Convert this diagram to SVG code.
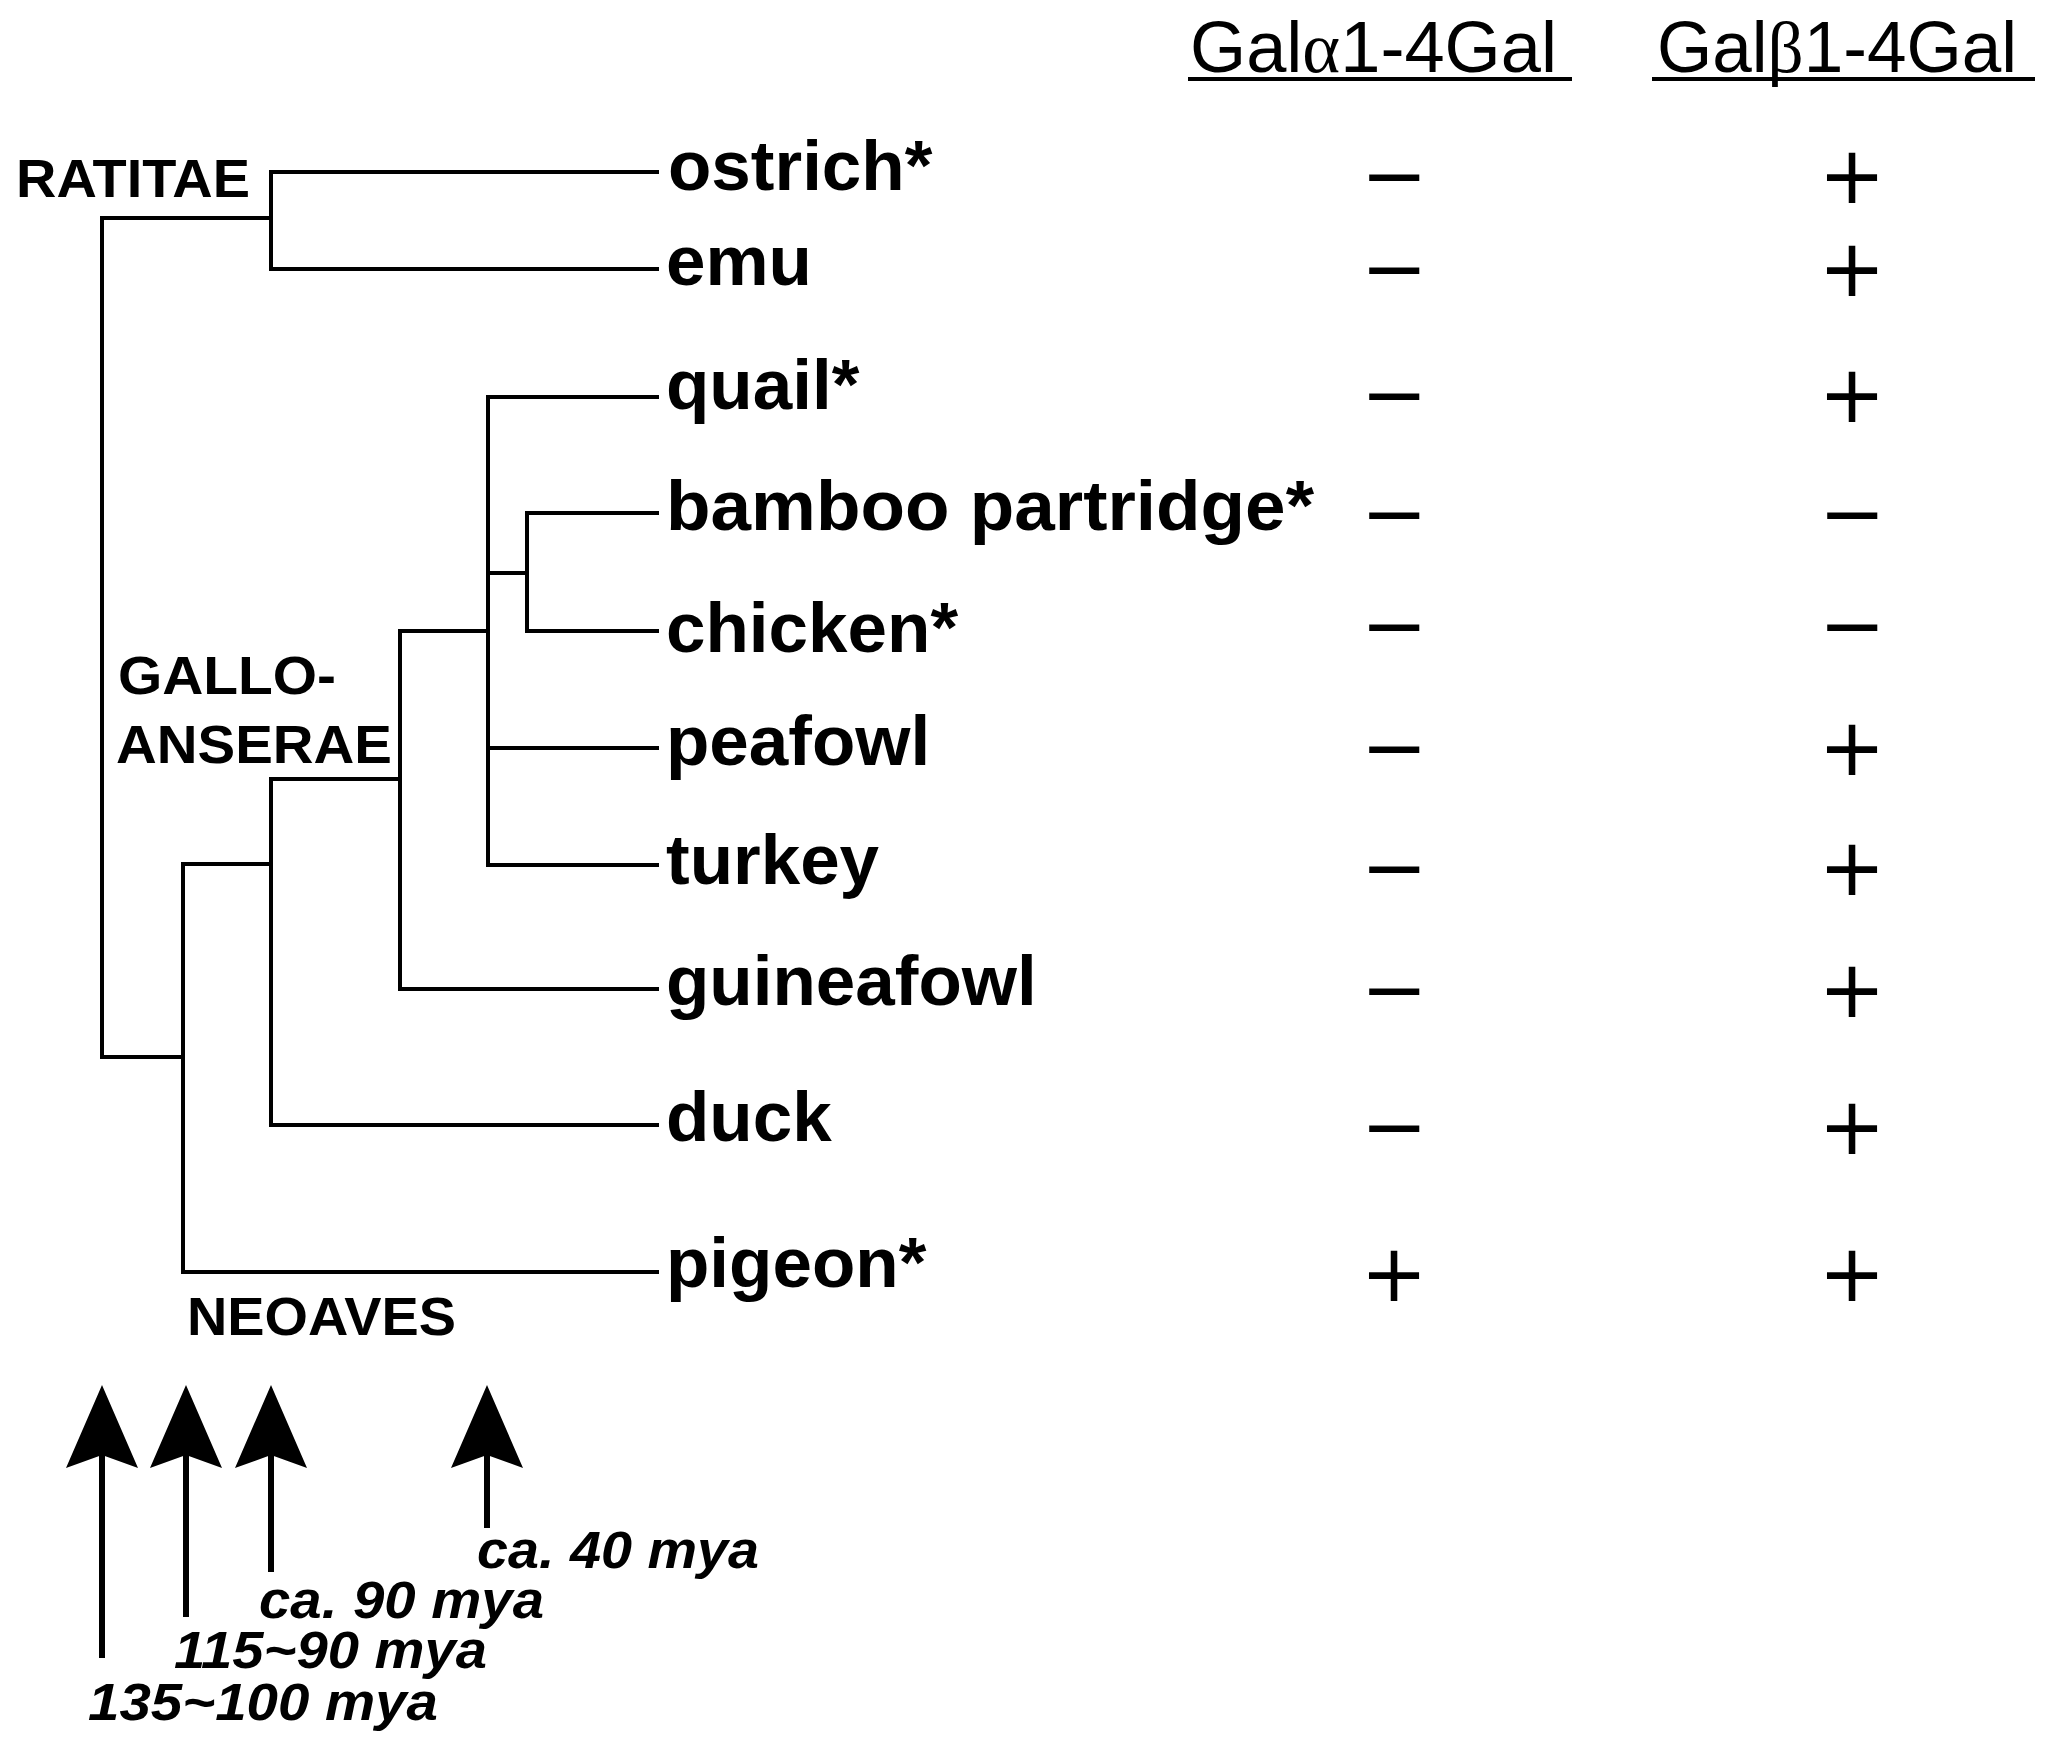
<svg xmlns="http://www.w3.org/2000/svg" width="2052" height="1751" viewBox="0 0 2052 1751">
<style>
.bg{fill:#fff}
.ln{stroke:#000;stroke-width:4;fill:none;stroke-linecap:square}
.leaf{font-family:"Liberation Sans",Arial,sans-serif;font-weight:bold;font-size:71px;fill:#000}
.clade{font-family:"Liberation Sans",Arial,sans-serif;font-weight:bold;font-size:54px;fill:#000}
.hdr{font-family:"Liberation Sans",Arial,sans-serif;font-size:72px;fill:#000}
.greek{font-family:"Liberation Serif","Times New Roman",serif}
.sign{font-family:"DejaVu Sans",sans-serif;font-size:80px;fill:#000;text-anchor:middle}
.age{font-family:"Liberation Sans",Arial,sans-serif;font-weight:bold;font-style:italic;font-size:51px;fill:#000}
.ul{stroke:#000;stroke-width:4}
.shaft{fill:#000}
</style>
<defs>
<path id="head" d="M0,0 L36,83 L0,70 L-36,83 Z" fill="#000"/>
</defs>
<rect class="bg" x="0" y="0" width="2052" height="1751"/>

<g id="headers">
<text class="hdr" x="1190" y="72" textLength="367" lengthAdjust="spacingAndGlyphs">Gal<tspan class="greek">α</tspan>1-4Gal</text>
<line class="ul" x1="1188" y1="79" x2="1572" y2="79"/>
<text class="hdr" x="1657" y="72" textLength="360" lengthAdjust="spacingAndGlyphs">Gal<tspan class="greek">β</tspan>1-4Gal</text>
<line class="ul" x1="1652" y1="79" x2="2035" y2="79"/>
</g>

<g id="clades">
<text id="ratitae" class="clade" x="16" y="197" textLength="234" lengthAdjust="spacingAndGlyphs">RATITAE</text>
<text id="galloanserae" class="clade"><tspan x="118" y="694" textLength="218" lengthAdjust="spacingAndGlyphs">GALLO-</tspan><tspan x="116" y="763" textLength="276" lengthAdjust="spacingAndGlyphs">ANSERAE</tspan></text>
<text id="neoaves" class="clade" x="187" y="1335" textLength="269" lengthAdjust="spacingAndGlyphs">NEOAVES</text>
</g>

<g id="connectors">
<path class="ln" d="M102,218 V1057 M102,218 H271 M271,172 V269 M271,172 H657 M271,269 H657"/>
<path class="ln" d="M102,1057 H183 M183,864 V1272 M183,1272 H657 M183,864 H271 M271,779 V1125 M271,1125 H657"/>
<path class="ln" d="M271,779 H400 M400,631 V989 M400,989 H657 M400,631 H488 M488,397 V865 M488,397 H657 M488,748 H657 M488,865 H657"/>
<path class="ln" d="M488,573 H527 M527,513 V631 M527,513 H657 M527,631 H657"/>
</g>

<g id="ostrich"><text class="leaf" x="668" y="190">ostrich*</text><text class="sign" x="1394" y="203">−</text><text class="sign" x="1852" y="203">+</text></g>
<g id="emu"><text class="leaf" x="666" y="285">emu</text><text class="sign" x="1394" y="296">−</text><text class="sign" x="1852" y="296">+</text></g>
<g id="quail"><text class="leaf" x="666" y="409">quail*</text><text class="sign" x="1394" y="422">−</text><text class="sign" x="1852" y="422">+</text></g>
<g id="bamboo-partridge"><text class="leaf" x="666" y="530" textLength="648" lengthAdjust="spacingAndGlyphs">bamboo partridge*</text><text class="sign" x="1394" y="541">−</text><text class="sign" x="1852" y="541">−</text></g>
<g id="chicken"><text class="leaf" x="666" y="652">chicken*</text><text class="sign" x="1394" y="653">−</text><text class="sign" x="1852" y="653">−</text></g>
<g id="peafowl"><text class="leaf" x="666" y="765">peafowl</text><text class="sign" x="1394" y="775">−</text><text class="sign" x="1852" y="775">+</text></g>
<g id="turkey"><text class="leaf" x="666" y="884">turkey</text><text class="sign" x="1394" y="895">−</text><text class="sign" x="1852" y="895">+</text></g>
<g id="guineafowl"><text class="leaf" x="666" y="1005">guineafowl</text><text class="sign" x="1394" y="1017">−</text><text class="sign" x="1852" y="1017">+</text></g>
<g id="duck"><text class="leaf" x="666" y="1141">duck</text><text class="sign" x="1394" y="1154">−</text><text class="sign" x="1852" y="1154">+</text></g>
<g id="pigeon"><text class="leaf" x="666" y="1287">pigeon*</text><text class="sign" x="1394" y="1301">+</text><text class="sign" x="1852" y="1301">+</text></g>

<g id="arrows">
<use href="#head" x="102" y="1385"/><rect class="shaft" x="99" y="1450" width="6" height="208"/>
<use href="#head" x="186" y="1385"/><rect class="shaft" x="183" y="1450" width="6" height="167"/>
<use href="#head" x="271" y="1385"/><rect class="shaft" x="268" y="1450" width="6" height="122"/>
<use href="#head" x="487" y="1385"/><rect class="shaft" x="484" y="1450" width="6" height="78"/>
</g>

<g id="ages">
<text class="age" x="477" y="1568" textLength="282" lengthAdjust="spacingAndGlyphs">ca. 40 mya</text>
<text class="age" x="259" y="1618" textLength="285" lengthAdjust="spacingAndGlyphs">ca. 90 mya</text>
<text class="age" x="174" y="1668" textLength="313" lengthAdjust="spacingAndGlyphs">115~90 mya</text>
<text class="age" x="88" y="1720" textLength="350" lengthAdjust="spacingAndGlyphs">135~100 mya</text>
</g>
</svg>
